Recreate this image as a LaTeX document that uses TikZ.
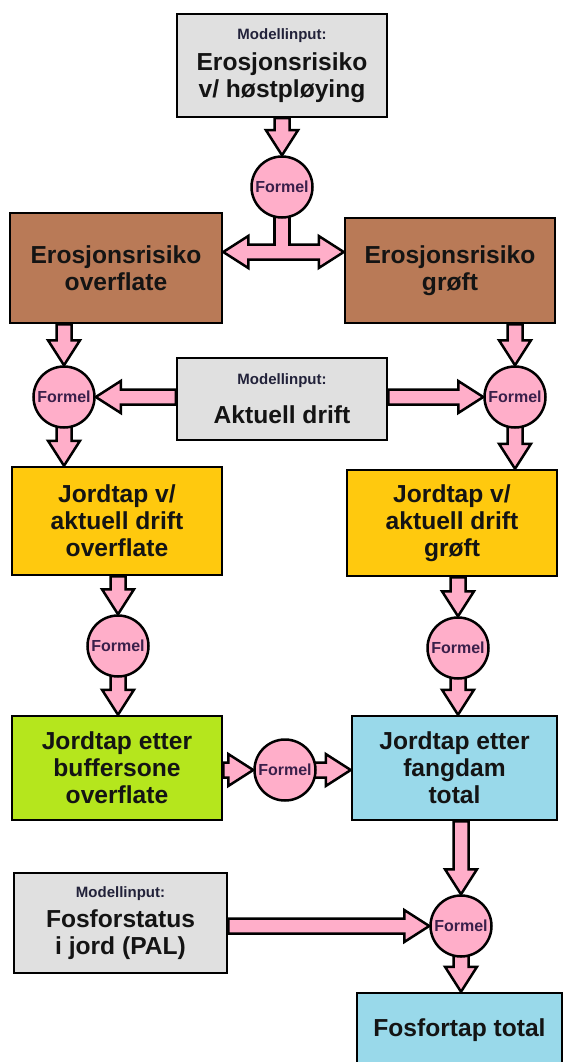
\documentclass[tikz,border=0pt]{standalone}
\usepackage{fontspec}
\setmainfont{Liberation Sans}
\usetikzlibrary{calc,backgrounds}

\definecolor{inputgray}{HTML}{E0E0E0}
\definecolor{erobrown}{HTML}{B97A57}
\definecolor{driftyellow}{HTML}{FFC90E}
\definecolor{buffergreen}{HTML}{B5E61D}
\definecolor{fangblue}{HTML}{99D9EA}
\definecolor{formelpink}{HTML}{FFAEC9}
\definecolor{inputnavy}{HTML}{22223A}
\definecolor{formeltext}{HTML}{3A1F4A}

\newcommand{\boxfont}{\fontsize{24.6}{27}\selectfont\bfseries}
\newcommand{\inputfont}{\fontsize{15}{17}\selectfont\bfseries\color{inputnavy}}
\newcommand{\formelfont}{\fontsize{16}{18}\selectfont\bfseries}

\tikzset{
  box/.style={draw, line width=2.5pt, inner sep=0pt, align=center, font=\boxfont, text=black!92},
  formel/.style={circle, draw, line width=2.5pt, fill=formelpink, minimum size=61pt, inner sep=0pt, font=\formelfont, text=formeltext},
  fatarrow/.style={draw=black, line width=2.5pt, fill=formelpink, line join=miter,
    to path={let \p1=($(\tikztotarget)-(\tikztostart)$), \n1={atan2(\y1,\x1)} in
      ($(\tikztostart)+(\n1+90:7.5pt)$)
      -- ($(\tikztotarget)+(\n1:-25pt)+(\n1+90:7.5pt)$)
      -- ($(\tikztotarget)+(\n1:-25pt)+(\n1+90:16pt)$)
      -- (\tikztotarget)
      -- ($(\tikztotarget)+(\n1:-25pt)+(\n1-90:16pt)$)
      -- ($(\tikztotarget)+(\n1:-25pt)+(\n1-90:7.5pt)$)
      -- ($(\tikztostart)+(\n1-90:7.5pt)$) -- cycle}},
  fatboth/.style={draw=black, line width=2.5pt, fill=formelpink, line join=miter,
    to path={let \p1=($(\tikztotarget)-(\tikztostart)$), \n1={atan2(\y1,\x1)} in
      (\tikztostart)
      -- ($(\tikztostart)+(\n1:25pt)+(\n1+90:16pt)$)
      -- ($(\tikztostart)+(\n1:25pt)+(\n1+90:7.5pt)$)
      -- ($(\tikztotarget)+(\n1:-25pt)+(\n1+90:7.5pt)$)
      -- ($(\tikztotarget)+(\n1:-25pt)+(\n1+90:16pt)$)
      -- (\tikztotarget)
      -- ($(\tikztotarget)+(\n1:-25pt)+(\n1-90:16pt)$)
      -- ($(\tikztotarget)+(\n1:-25pt)+(\n1-90:7.5pt)$)
      -- ($(\tikztostart)+(\n1:25pt)+(\n1-90:7.5pt)$)
      -- ($(\tikztostart)+(\n1:25pt)+(\n1-90:16pt)$) -- cycle}}
}

\begin{document}
\begin{tikzpicture}[x=1pt, y=-1pt]
    \useasboundingbox (0,0) rectangle (565,1062);

    % Model inputs
    \node[box, fill=inputgray, minimum width=210pt, minimum height=103pt] (in1) at (282,65.5)
        {{\inputfont Modellinput:}\\[4pt]Erosjonsrisiko\\v/ høstpløying};
    \node[box, fill=inputgray, minimum width=210pt, minimum height=82pt] (in2) at (282,399)
        {{\inputfont Modellinput:}\\[12pt]Aktuell drift};
    \node[box, fill=inputgray, minimum width=213pt, minimum height=100pt] (pal) at (120.5,923)
        {{\inputfont Modellinput:}\\[3pt]Fosforstatus\\i jord (PAL)};

    % Erosion risk
    \node[box, fill=erobrown, minimum width=212pt, minimum height=110pt] (eo) at (116,268)
        {Erosjonsrisiko\\overflate};
    \node[box, fill=erobrown, minimum width=210pt, minimum height=105pt] (eg) at (450,270.5)
        {Erosjonsrisiko\\grøft};

    % Soil loss
    \node[box, fill=driftyellow, minimum width=210pt, minimum height=108pt] (jo) at (117,521)
        {Jordtap v/\\aktuell drift\\overflate};
    \node[box, fill=driftyellow, minimum width=210pt, minimum height=106pt] (jg) at (452,523)
        {Jordtap v/\\aktuell drift\\grøft};
    \node[box, fill=buffergreen, minimum width=210pt, minimum height=104pt] (bo) at (117,768)
        {Jordtap etter\\buffersone\\overflate};
    \node[box, fill=fangblue, minimum width=205pt, minimum height=104pt] (ft) at (454.5,768)
        {Jordtap etter\\fangdam\\total};
    \node[box, fill=fangblue, minimum width=205pt, minimum height=74pt] (fp) at (459.5,1030)
        {Fosfortap total};

    % Formulas
    \foreach \n/\x/\y in {f1/282/187, f2/64/397, f3/515/397, f4/118/646,
                          f5/458/648, f6/285/770, f7/461/926} {
        \node[formel] (\n) at (\x,\y) {Formel};
    }

    \coordinate (split) at (282,252);

    % Flow arrows
    \begin{scope}[on background layer]
        \fill[white] (0,0) rectangle (565,1062);
        \draw[fatboth] (split -| eo.east) to (split -| eg.west);
        \fill[formelpink] ($(f1.center)+(-6.3,0)$) rectangle ($(split)+(6.3,0)$);
        \draw[line width=2.5pt] ($(f1.center)+(-7.5,0)$) -- ($(split)+(-7.5,-7.5)$)
                                ($(f1.center)+(7.5,0)$) -- ($(split)+(7.5,-7.5)$);
        \foreach \a/\b in {f1 |- in1.south/f1.north,
                           f2 |- eo.south/f2.north, f3 |- eg.south/f3.north,
                           in2.west |- f2/f2.east, in2.east |- f3/f3.west,
                           f2.center/f2 |- jo.north, f3.center/f3 |- jg.north,
                           f4 |- jo.south/f4.north, f4.center/f4 |- bo.north,
                           f5 |- jg.south/f5.north, f5.center/f5 |- ft.north,
                           bo.east |- f6/f6.west, f6.center/ft.west |- f6,
                           f7 |- ft.south/f7.north, pal.east |- f7/f7.west,
                           f7.center/f7 |- fp.north} {
            \draw[fatarrow] (\a) to (\b);
        }
    \end{scope}
\end{tikzpicture}
\end{document}
